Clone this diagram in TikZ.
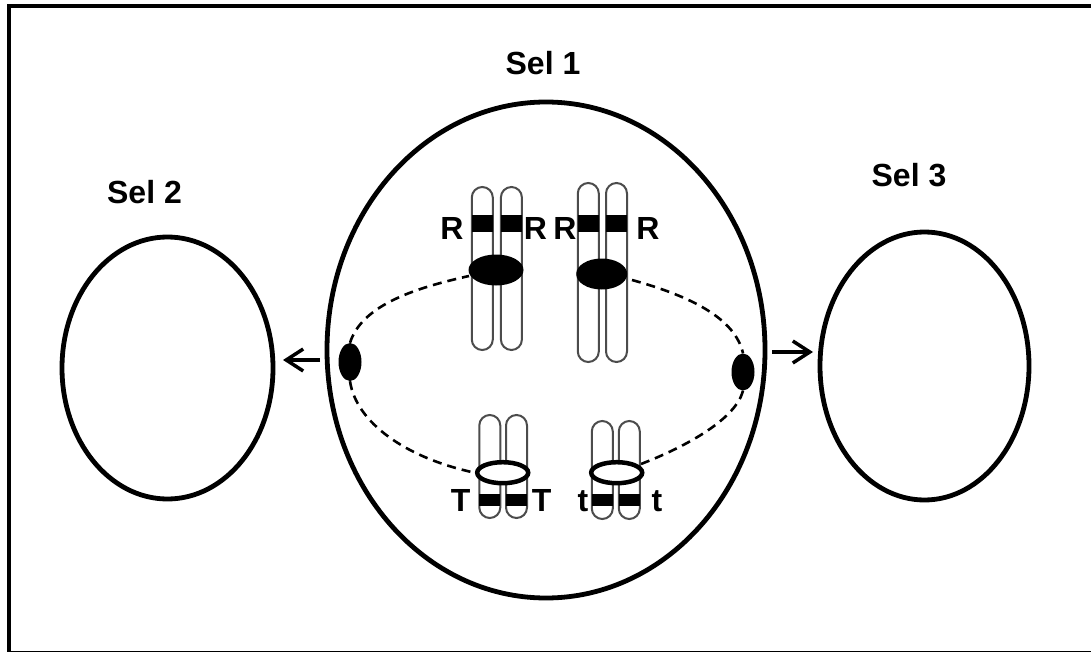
\documentclass[tikz,border=0pt]{standalone}
\usepackage{fontspec}
\setmainfont{Liberation Sans}
\usetikzlibrary{shapes.geometric,arrows.meta}
\tikzset{
  cellshape/.style={draw=black, line width=4.8pt, ellipse, inner sep=0pt, fill=none},
  lbl/.style={font=\bfseries\fontsize{32}{32}\selectfont, anchor=base, inner sep=0pt},
  chromatid/.style={draw=black!70, line width=2pt, rounded corners=10.5pt, inner sep=0pt, fill=white, minimum width=21pt},
  band/.style={fill=black, inner sep=0pt, minimum width=21pt},
  centro/.style={ellipse, fill=black, inner sep=0pt},
  ring/.style={ellipse, draw=black, line width=4.5pt, fill=white, inner sep=0pt},
  pole/.style={ellipse, fill=black, inner sep=0pt},
  spindle/.style={line width=2.6pt, dash pattern=on 9pt off 6pt},
  movearrow/.style={line width=3.5pt, -{Straight Barb[length=17pt,width=22pt,line width=3.5pt]}},
}
\begin{document}
\begin{tikzpicture}[x=1pt,y=-1pt]
\useasboundingbox (0,0) rectangle (1091,652);
\fill[white] (0,0) rectangle (1091,652);
\draw[line width=4pt] (8.5,6) rectangle (1094,652.5);

% cells
\node[cellshape, minimum width=438pt, minimum height=496pt] (cell1) at (546,350) {};
\node[cellshape, minimum width=211pt, minimum height=262pt] (cell2) at (167.5,368) {};
\node[cellshape, minimum width=209pt, minimum height=268pt] (cell3) at (924.5,366) {};

\node[lbl] (t1) at (543,75) {Sel 1};
\node[lbl] (t2) at (144.5,204) {Sel 2};
\node[lbl] (t3) at (909,187) {Sel 3};

% poles
\node[pole, minimum width=23pt, minimum height=38pt] (poleL) at (350,362) {};
\node[pole, minimum width=23pt, minimum height=37pt] (poleR) at (743,372) {};

% centromere positions (for spindle)
\coordinate (cA) at (496,270);
\coordinate (cB) at (601.7,274);
\coordinate (cC) at (502.7,472.7);
\coordinate (cD) at (616.7,472.7);

% spindle fibres
\draw[spindle] (poleL.north) .. controls (362,305) and (415,288) .. (469,276);
\draw[spindle] (632,280) .. controls (690,296) and (735,318) .. (poleR.north);
\draw[spindle] (poleL.south) .. controls (356,422) and (405,458) .. (476,473);
\draw[spindle] (641,464) .. controls (690,445) and (736,418) .. (poleR.south);

% upper chromosomes
\node[chromatid, minimum height=163pt] (a1) at (482.3,268.5) {};
\node[chromatid, minimum height=163pt] (a2) at (511.4,268.5) {};
\node[chromatid, minimum height=179pt] (b1) at (588.3,272.5) {};
\node[chromatid, minimum height=179pt] (b2) at (616.5,272.5) {};
\node[band, minimum height=17pt] (ba1) at (482.3,223.5) {};
\node[band, minimum height=17pt] (ba2) at (511.4,223.5) {};
\node[band, minimum height=17pt] (bb1) at (588.3,223.5) {};
\node[band, minimum height=17pt] (bb2) at (616.5,223.5) {};
\node[centro, minimum width=55pt, minimum height=31pt] (cenA) at (cA) {};
\node[centro, minimum width=51pt, minimum height=31pt] (cenB) at (cB) {};

% lower chromosomes
\node[chromatid, minimum height=103pt] (c1) at (489.8,466.5) {};
\node[chromatid, minimum height=103pt] (c2) at (516.5,466.5) {};
\node[chromatid, minimum height=98pt] (d1) at (602.3,470) {};
\node[chromatid, minimum height=98pt] (d2) at (629.3,470) {};
\node[band, minimum height=12pt] (bc1) at (489.8,499.5) {};
\node[band, minimum height=12pt] (bc2) at (516.5,499.5) {};
\node[band, minimum height=12pt] (bd1) at (602.3,499.5) {};
\node[band, minimum height=12pt] (bd2) at (629.3,499.5) {};
\node[ring, minimum width=51pt, minimum height=21pt] (cenC) at (cC) {};
\node[ring, minimum width=51pt, minimum height=21pt] (cenD) at (cD) {};

% allele labels
\node[lbl] (r1) at (452,240) {R};
\node[lbl] (r2) at (535.5,240) {R};
\node[lbl] (r3) at (565,240) {R};
\node[lbl] (r4) at (648,240) {R};
\node[lbl] (T1) at (460.7,511.7) {T};
\node[lbl] (T2) at (541.7,511.7) {T};
\node[lbl] (s1) at (583,511.7) {t};
\node[lbl] (s2) at (657,511.7) {t};

% movement arrows
\coordinate (arrLs) at (320,360);
\coordinate (arrLe) at (283,360);
\coordinate (arrRs) at (772,352);
\coordinate (arrRe) at (813,352);
\draw[movearrow] (arrLs) -- (arrLe);
\draw[movearrow] (arrRs) -- (arrRe);
\end{tikzpicture}
\end{document}
